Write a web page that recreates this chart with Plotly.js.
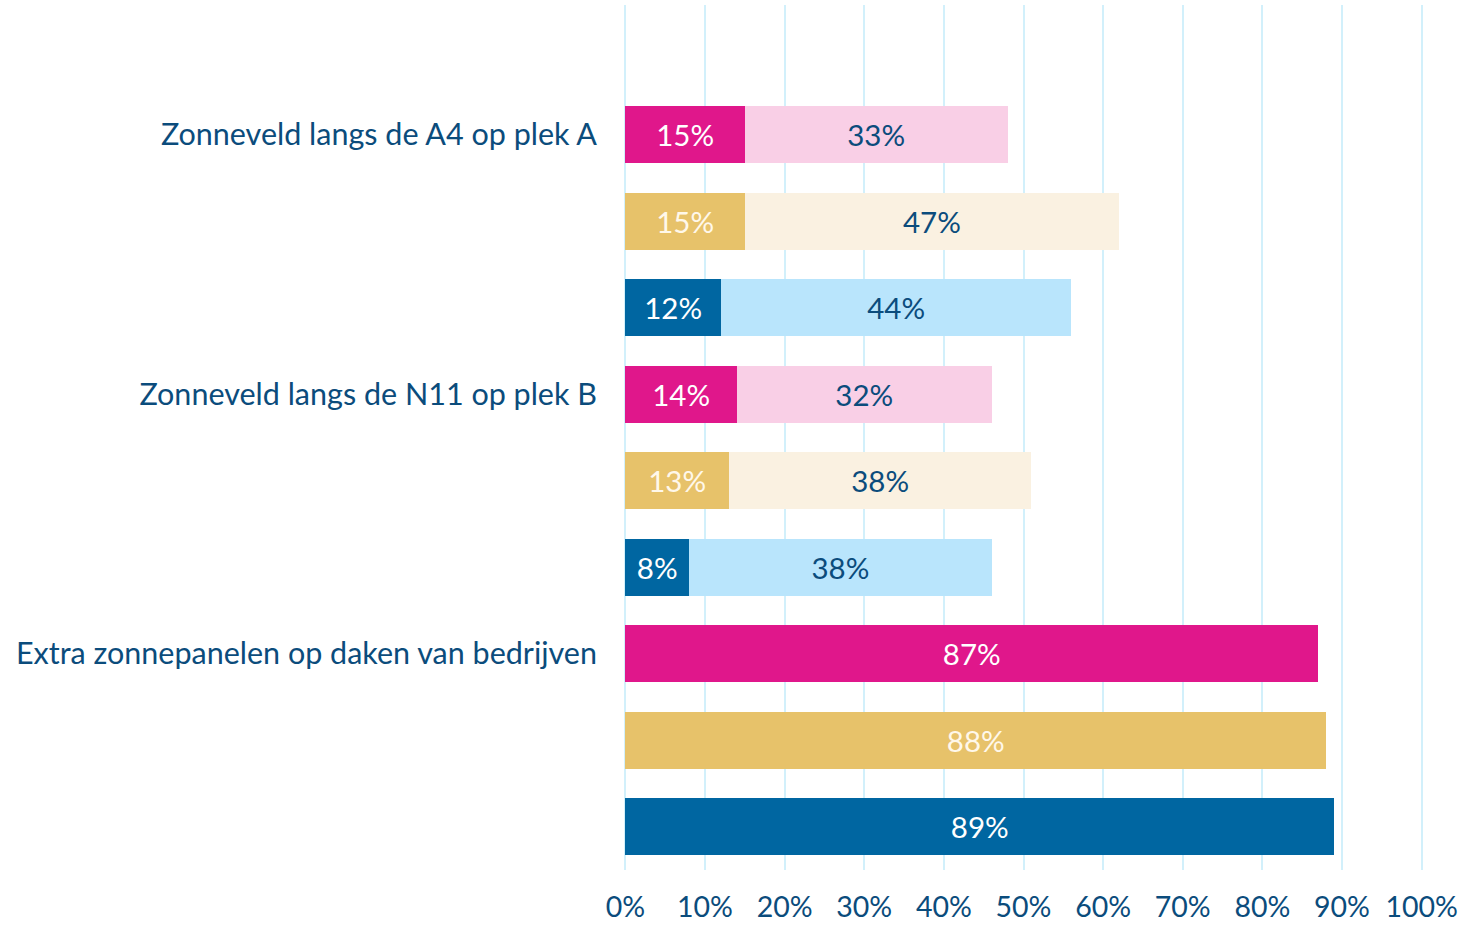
<!DOCTYPE html>
<html>
<head>
<meta charset="utf-8">
<script src="https://cdn.plot.ly/plotly-3.0.1.min.js"></script>
<style>html,body{margin:0;padding:0;background:#fff;}#chart{width:1478px;height:925px;}</style>
</head>
<body>
<div id="chart"></div>
<script>
const categories = ["Zonneveld langs de A4 op plek A", "Zonneveld langs de N11 op plek B", "Extra zonnepanelen op daken van bedrijven"];
const pinkDark  = [15, 14, 87];
const pinkLight = [33, 32, null];
const goldDark  = [15, 13, 88];
const goldLight = [47, 38, null];
const blueDark  = [12, 8, 89];
const blueLight = [44, 38, null];
const xTickVals = [0,10,20,30,40,50,60,70,80,90,100];
const xTickText = ["0%","10%","20%","30%","40%","50%","60%","70%","80%","90%","100%"];

const FONT = "Lato, 'Source Sans Pro', 'Noto Sans', sans-serif";
const TXT = "#0B4C7C";

function rowsFor(offset){ return categories.map((c,i)=> i*3 + offset); }

function trace(vals, offset, color, textColor){
  return {
    type: 'bar', orientation: 'h',
    x: vals, y: rowsFor(offset),
    width: 0.66,
    marker: {color: color, line: {width: 0}},
    text: vals.map(v => v == null ? '' : v + '%'),
    texttemplate: '%{text}',
    textposition: 'inside', insidetextanchor: 'middle',
    constraintext: 'none',
    textfont: {family: FONT, size: 29.5, color: textColor},
    hoverinfo: 'none', showlegend: false, cliponaxis: false
  };
}

const data = [
  trace(pinkDark, 0, '#E0178B', '#FFFFFF'),
  trace(pinkLight, 0, '#F9CFE6', TXT),
  trace(goldDark, 1, '#E7C26A', '#FFF8EA'),
  trace(goldLight, 1, '#FAF1E1', TXT),
  trace(blueDark, 2, '#0066A1', '#FFFFFF'),
  trace(blueLight, 2, '#B9E5FC', TXT)
];

const layout = {
  width: 1478, height: 925,
  margin: {l: 622.6, r: 53.6, t: 5, b: 55},
  paper_bgcolor: '#fff', plot_bgcolor: '#fff',
  barmode: 'stack',
  font: {family: FONT, color: TXT, size: 28},
  xaxis: {
    range: [-0.3, 100.3], tickvals: xTickVals, ticktext: xTickText,
    showgrid: true, gridcolor: '#D2F0FB', gridwidth: 2,
    zeroline: false, showline: false, ticks: '',
    ticklabelstandoff: 17,
    tickfont: {family: FONT, size: 28.5, color: TXT},
    fixedrange: true
  },
  yaxis: {
    range: [8.5, -1.5],
    tickvals: categories.map((c,i)=> i*3), ticktext: categories,
    showgrid: false, zeroline: false, showline: false, ticks: '',
    ticklabelstandoff: 25,
    tickfont: {family: FONT, size: 30.5, color: TXT},
    fixedrange: true
  }
};

Plotly.newPlot('chart', data, layout, {displayModeBar: false, staticPlot: true});
</script>
</body>
</html>
